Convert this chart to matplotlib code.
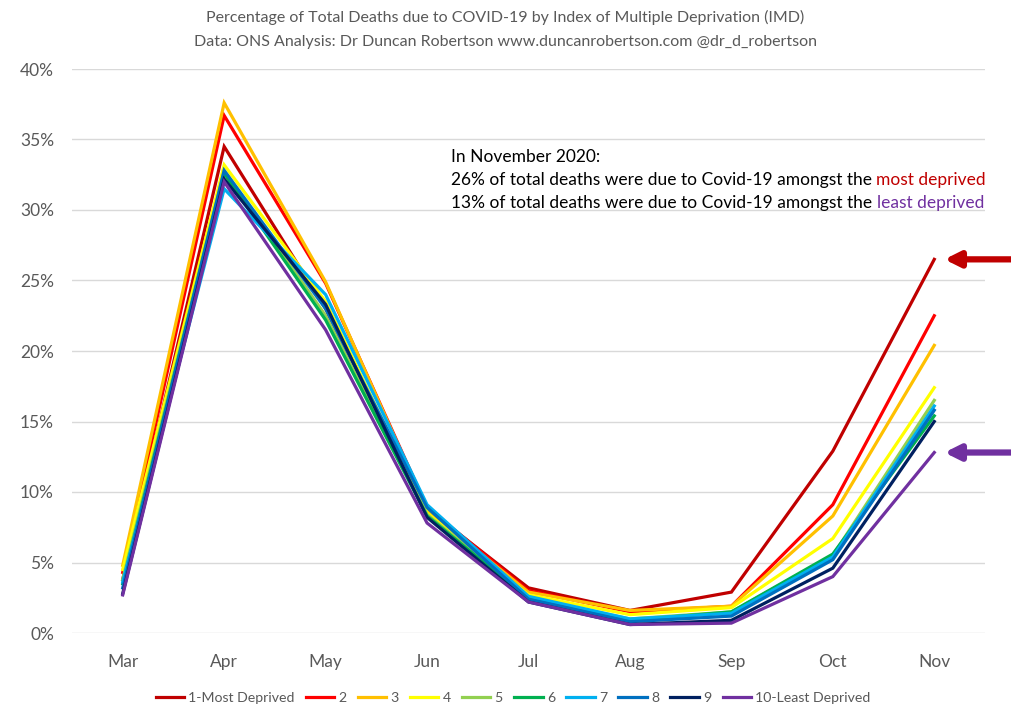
import matplotlib
matplotlib.use("Agg")
import matplotlib.pyplot as plt
from matplotlib.ticker import FuncFormatter

months = ["Mar", "Apr", "May", "Jun", "Jul", "Aug", "Sep", "Oct", "Nov"]
labels = ["1-Most Deprived", "2", "3", "4", "5", "6", "7", "8", "9", "10-Least Deprived"]
d1 = [3.8, 34.5, 23.0, 8.8, 3.2, 1.6, 2.9, 12.9, 26.5]
d2 = [4.3, 36.7, 24.8, 8.9, 3.0, 1.5, 1.9, 9.1, 22.5]
d3 = [4.8, 37.6, 24.9, 8.7, 2.9, 1.6, 1.9, 8.3, 20.4]
d4 = [4.5, 33.2, 23.5, 8.5, 2.7, 1.3, 1.8, 6.7, 17.4]
d5 = [3.8, 32.8, 22.5, 8.4, 2.5, 1.0, 1.5, 5.5, 16.5]
d6 = [3.5, 32.6, 22.2, 8.3, 2.4, 0.9, 1.5, 5.6, 15.4]
d7 = [3.6, 31.5, 24.0, 9.1, 2.6, 1.0, 1.4, 5.4, 16.1]
d8 = [3.2, 32.8, 23.0, 8.9, 2.4, 0.8, 1.2, 5.2, 15.8]
d9 = [2.8, 32.2, 23.3, 8.2, 2.2, 0.6, 0.9, 4.6, 15.0]
d10 = [2.7, 32.0, 21.5, 7.8, 2.2, 0.6, 0.7, 4.0, 12.8]
series = [d1, d2, d3, d4, d5, d6, d7, d8, d9, d10]
colors = ["#C00000", "#FF0000", "#FFC000", "#FFFF00", "#92D050",
          "#00B050", "#00B0F0", "#0070C0", "#002060", "#7030A0"]

plt.rcParams['font.family'] = ['Lato', 'DejaVu Sans']
grey = "#595959"

fig = plt.figure(figsize=(10.11, 7.16), dpi=100)
ax = fig.add_axes([72/1011, 1-633/716, (985-72)/1011, (633-69)/716])

x = list(range(len(months)))
for s, c, lab in zip(series, colors, labels):
    ax.plot(x, s, color=c, lw=2.3, label=lab, solid_joinstyle='miter')

ax.set_xlim(-0.5, len(months)-0.5)
ax.set_ylim(0, 40)
ax.set_yticks(range(0, 41, 5))
ax.yaxis.set_major_formatter(FuncFormatter(lambda v, p: f"{int(v)}%"))
ax.set_xticks(x)
ax.set_xticklabels(months)
ax.grid(axis='y', color='#D9D9D9', lw=1)
ax.set_axisbelow(True)
for sp in ax.spines.values():
    sp.set_visible(False)
ax.tick_params(axis='both', length=0, labelsize=12.5, colors=grey)
ax.tick_params(axis='y', pad=13)
ax.tick_params(axis='x', pad=15)

fig.text(0.5, 1-17/716, "Percentage of Total Deaths due to COVID-19 by Index of Multiple Deprivation (IMD)",
         ha='center', va='center', fontsize=11.5, color=grey)
fig.text(0.5, 1-42/716, "Data: ONS Analysis: Dr Duncan Robertson www.duncanrobertson.com @dr_d_robertson",
         ha='center', va='center', fontsize=11.5, color=grey)

# annotation
tx = 451/1011
fs = 12.5
fig.text(tx, 1-157/716, "In November 2020:", ha='left', va='center', fontsize=fs, color='black')
t2 = fig.text(tx, 1-180/716, "26% of total deaths were due to Covid-19 amongst the ",
              ha='left', va='center', fontsize=fs, color='black')
ax.annotate("most deprived", xy=(1, 0), xycoords=t2, ha='left', va='bottom',
            fontsize=fs, color='#C00000', annotation_clip=False)
t3 = fig.text(tx, 1-203/716, "13% of total deaths were due to Covid-19 amongst the ",
              ha='left', va='center', fontsize=fs, color='black')
ax.annotate("least deprived", xy=(1, 0), xycoords=t3, ha='left', va='bottom',
            fontsize=fs, color='#7030A0', annotation_clip=False)

# arrows
for yv, c in [(d1[-1], '#C00000'), (d10[-1], '#7030A0')]:
    ax.annotate("", xy=(8.1, yv), xytext=(8.77, yv), xycoords='data',
                arrowprops=dict(arrowstyle='-|>,head_length=0.9,head_width=0.45',
                                color=c, lw=4.5, shrinkA=0, shrinkB=0),
                annotation_clip=False)

leg = fig.legend(loc='center', bbox_to_anchor=(513/1011, 1-698/716), ncol=10, frameon=False,
                 fontsize=10.2, handlelength=2.0, handletextpad=0.3, columnspacing=0.8,
                 labelcolor=grey)

fig.savefig("out.png", dpi=100)
